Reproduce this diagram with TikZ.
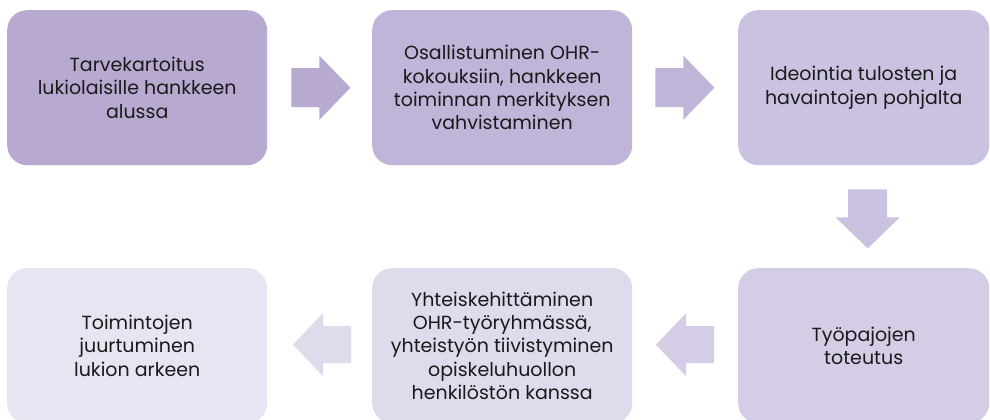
\documentclass[tikz,border=0pt]{standalone}
\usepackage{fontspec}
\setmainfont{Poppins}
\usetikzlibrary{calc}

\definecolor{stepA}{HTML}{B8A9D0}
\definecolor{stepB}{HTML}{C0B4D8}
\definecolor{stepC}{HTML}{CBC1E0}
\definecolor{stepD}{HTML}{D5CDE6}
\definecolor{stepE}{HTML}{DFDAEC}
\definecolor{stepF}{HTML}{E8E4F2}
\definecolor{ink}{HTML}{1A1A1A}

\tikzset{
  stepbox/.style={rectangle, rounded corners=20pt, draw=none,
    minimum width=260pt, minimum height=155pt, inner sep=0pt,
    anchor=north west, align=center, text=ink,
    font=\fontsize{19pt}{23.3pt}\selectfont},
}

% block arrows: right-pointing and left-pointing, starting at the shaft end
\newcommand{\rightblock}[2]{%
  \fill[#2] ([shift={(0,-19.5)}]#1) -- ++(28,0) -- ++(0,-12.5) -- ++(31,32)
    -- ++(-31,32) -- ++(0,-12.5) -- ++(-28,0) -- cycle;}
\newcommand{\leftblock}[2]{%
  \fill[#2] ([shift={(0,-18.5)}]#1) -- ++(-28,0) -- ++(0,-13) -- ++(-30,31.5)
    -- ++(30,31.5) -- ++(0,-13) -- ++(28,0) -- cycle;}

\begin{document}
\begin{tikzpicture}[x=1pt,y=-1pt]
\clip (0,0) rectangle (990,420);
\fill[white] (0,0) rectangle (990,420);

% top row
\node[stepbox, fill=stepA] (b1) at (7,10)
  {Tarvekartoitus\\lukiolaisille hankkeen\\alussa};
\node[stepbox, fill=stepB] (b2) at (372,10)
  {Osallistuminen OHR-\\kokouksiin, hankkeen\\toiminnan merkityksen\\vahvistaminen};
\node[stepbox, fill=stepC, minimum width=251pt] (b3) at (738,10)
  {Ideointia tulosten ja\\havaintojen pohjalta};

% bottom row
\node[stepbox, fill=stepD, minimum width=251pt] (b4) at (738,268)
  {Työpajojen\\toteutus};
\node[stepbox, fill=stepE] (b5) at (372,268)
  {Yhteiskehittäminen\\OHR-työryhmässä,\\yhteistyön tiivistyminen\\opiskeluhuollon\\henkilöstön kanssa};
\node[stepbox, fill=stepF] (b6) at (7,268)
  {Toimintojen\\juurtuminen\\lukion arkeen};

% connectors
\rightblock{$(b1.east)+(24,0)$}{stepA}
\rightblock{$(b2.east)+(23,0)$}{stepB}
\fill[stepC] ($(b3.south)+(4,0)$) ++(-19.5,24) -- ++(39,0) -- ++(0,28)
  -- ++(12.5,0) -- ++(-32,31) -- ++(-32,-31) -- ++(12.5,0) -- cycle;
\leftblock{$(b4.west)+(-24,-1)$}{stepD}
\leftblock{$(b5.west)+(-21,-1)$}{stepE}
\end{tikzpicture}
\end{document}
